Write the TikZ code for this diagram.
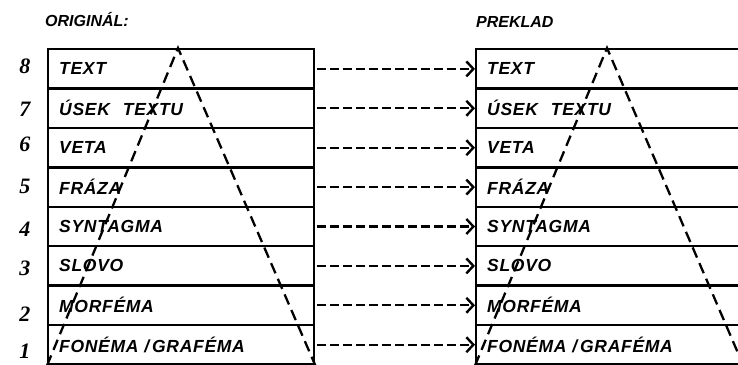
\documentclass[tikz,border=0pt]{standalone}
\usepackage{fontspec}
\setmainfont{Liberation Sans}
\newfontfamily\letfont[LetterSpace=4]{Liberation Sans}
\newfontfamily\handfont{Liberation Serif}
\usetikzlibrary{arrows.meta}
\tikzset{
  rowbox/.style={draw, line width=2.4pt, anchor=north west, text width=244pt,
    inner xsep=11pt, inner ysep=0pt, minimum height=39.4pt, align=left,
    font=\letfont\bfseries\itshape\fontsize{17.5}{17.5}\selectfont},
  titletext/.style={anchor=west, inner sep=0pt,
    font=\bfseries\itshape\fontsize{16}{16}\selectfont},
  handnum/.style={inner sep=0pt, font=\handfont\bfseries\itshape\fontsize{22}{22}\selectfont},
  linkarrow/.style={line width=2.3pt, dash pattern=on 9pt off 4pt,
    -{Straight Barb[length=7pt,width=15pt,line width=2.4pt]}, shorten <=1.5pt},
  legline/.style={line width=2.3pt, dash pattern=on 11pt off 6pt}
}
\begin{document}
\begin{tikzpicture}[x=1pt,y=-1pt]
\useasboundingbox (0,0) rectangle (738,364);
\node[titletext] (tl) at (45,20) {ORIGINÁL:};
\node[titletext] (tr) at (476,22) {PREKLAD};
\foreach \t [count=\i] in {TEXT,ÚSEK\hspace{13pt}TEXTU,VETA,FRÁZA,SYNTAGMA,SLOVO,MORFÉMA,FONÉMA /\,GRAFÉMA}{
  \node[rowbox] (L\i) at (47,{48+39.4*(\i-1)}) {\t};
  \node[rowbox] (R\i) at (475,{48+39.4*(\i-1)}) {\t};
  \draw[linkarrow] (L\i.east) -- (R\i.west);
}
\foreach \n/\y [count=\i] in {8/66,7/109,6/144,5/186,4/229,3/268,2/314,1/351}{
  \node[handnum] (h\i) at (25,\y) {\n};
}
\coordinate (apL) at (178,48);
\coordinate (apR) at (607,48);
\draw[legline] (L8.south west) -- (apL) -- (L8.south east);
\draw[legline] (R8.south west) -- (apR) -- (R8.south east);
\end{tikzpicture}
\end{document}
